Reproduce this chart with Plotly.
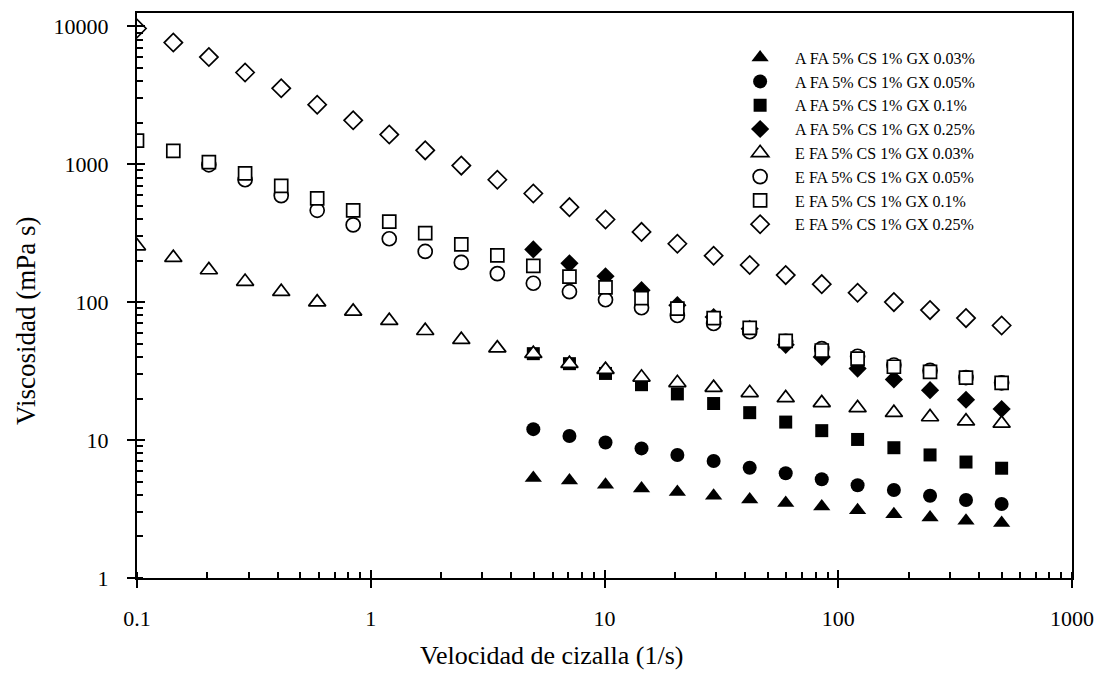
import plotly.graph_objects as go

# Shear rate (1/s) for the full E-series sweep
shear = [0.1, 0.143, 0.203, 0.29, 0.414, 0.59, 0.841, 1.2, 1.71, 2.44, 3.48, 4.96, 7.08,
         10.1, 14.4, 20.5, 29.3, 41.8, 59.6, 85, 121, 173, 247, 352, 500]
# A-series shear rates (start at ~5 1/s)
shear_a = [4.96, 7.08, 10.1, 14.4, 20.5, 29.3, 41.8, 59.6, 85, 121, 173, 247, 352, 500]
# E 0.05% series starts at ~0.2 1/s
shear_e005 = [0.203, 0.29, 0.414, 0.59, 0.841, 1.2, 1.71, 2.44, 3.48, 4.96, 7.08, 10.1,
              14.4, 20.5, 29.3, 41.8, 59.6, 85, 121, 173, 247, 352, 500]

visc_a003 = [5.3, 5.1, 4.75, 4.45, 4.2, 3.95, 3.7, 3.5, 3.3, 3.1, 2.9, 2.75, 2.6, 2.5]
visc_a005 = [12.0, 10.7, 9.6, 8.7, 7.8, 7.05, 6.3, 5.75, 5.2, 4.7, 4.35, 3.95, 3.68, 3.44]
visc_a01 = [42.3, 35.8, 30.4, 25.2, 21.6, 18.4, 15.8, 13.5, 11.7, 10.1, 8.8, 7.8, 6.93, 6.25]
visc_a025 = [241, 191, 154, 122, 95, 78, 64, 49, 40, 33, 27.5, 23, 19.6, 16.8]

visc_e003 = [255, 210, 171, 141, 119, 100, 85.7, 73.4, 62, 53.4, 46.4, 42.3, 35.8, 32.4,
             28.5, 26, 24, 22, 20.2, 18.6, 17.1, 15.8, 14.7, 13.7, 13.2]
visc_e005 = [990, 771, 592, 463, 363, 288, 233, 194, 161, 137, 119, 104, 91, 80, 70, 61,
             52, 46, 40.5, 35, 32, 28.4, 26]
visc_e01 = [1480, 1250, 1034, 859, 697, 566, 462, 383, 316, 262, 218, 183, 153, 128, 107,
            89.7, 76.6, 65, 52.3, 44.6, 39, 34, 31.2, 28.4, 26]
visc_e025 = [9630, 7615, 5980, 4620, 3550, 2700, 2080, 1640, 1260, 977, 771, 613, 488, 397,
             323, 265, 217, 186, 157, 135, 117, 100, 87.5, 76.6, 67.7]

names = ["A FA 5% CS 1% GX 0.03%", "A FA 5% CS 1% GX 0.05%", "A FA 5% CS 1% GX 0.1%",
         "A FA 5% CS 1% GX 0.25%", "E FA 5% CS 1% GX 0.03%", "E FA 5% CS 1% GX 0.05%",
         "E FA 5% CS 1% GX 0.1%", "E FA 5% CS 1% GX 0.25%"]

x_tickvals = [0.1, 1, 10, 100, 1000]
x_ticktext = ["0.1", "1", "10", "100", "1000"]
y_tickvals = [1, 10, 100, 1000, 10000]
y_ticktext = ["1", "10", "100", "1000", "10000"]

series = [
    (names[0], shear_a, visc_a003, "triangle-up", True, 15),
    (names[1], shear_a, visc_a005, "circle", True, 14),
    (names[2], shear_a, visc_a01, "square", True, 13),
    (names[3], shear_a, visc_a025, "diamond", True, 14),
    (names[4], shear, visc_e003, "triangle-up", False, 15),
    (names[5], shear_e005, visc_e005, "circle", False, 14),
    (names[6], shear, visc_e01, "square", False, 13),
    (names[7], shear, visc_e025, "diamond", False, 14),
]

FONT = "Liberation Serif, Times New Roman, serif"

fig = go.Figure()
for name, xs, ys, sym, filled, size in series:
    fig.add_trace(go.Scatter(
        x=xs, y=ys, mode="markers", name=name,
        marker=dict(symbol=sym, size=size,
                    color="black" if filled else "white",
                    line=dict(color="black", width=0 if filled else 1.7)),
    ))

# invisible trace on overlay axes (for crossing major ticks)
fig.add_trace(go.Scatter(x=[1], y=[1], xaxis="x2", yaxis="y2", mode="markers",
                         marker=dict(opacity=0), showlegend=False, hoverinfo="skip"))

XR = [-1, 3]
YR = [0, 4.096]
tickfont = dict(family=FONT, size=22, color="black")
minor = dict(dtick="D1", ticks="inside", ticklen=6, tickwidth=1.5,
             tickcolor="black", showgrid=False)

# page body has an 8px margin, so the figure is sized/offset to compensate
fig.update_layout(
    width=1094, height=665,
    margin=dict(l=129, r=30, t=3, b=95),
    paper_bgcolor="white", plot_bgcolor="white",
    showlegend=True,
    legend=dict(x=0.629, y=0.951, xanchor="left", yanchor="top",
                font=dict(family=FONT, size=16, color="black"),
                bgcolor="rgba(0,0,0,0)", itemwidth=60, tracegroupgap=0),
    xaxis=dict(type="log", range=XR, tickmode="array", tickvals=x_tickvals,
               ticktext=x_ticktext,
               showline=True, linecolor="black", linewidth=2, mirror=True,
               ticks="outside", ticklen=8, tickwidth=2, tickcolor="black",
               showgrid=False, zeroline=False, tickfont=tickfont,
               ticklabelstandoff=12, minor=minor),
    yaxis=dict(type="log", range=YR, tickmode="array", tickvals=y_tickvals,
               ticktext=y_ticktext,
               showline=True, linecolor="black", linewidth=2, mirror=True,
               ticks="outside", ticklen=8, tickwidth=2, tickcolor="black",
               showgrid=False, zeroline=False, tickfont=tickfont,
               ticklabelstandoff=14, minor=minor),
    xaxis2=dict(type="log", range=XR, tickmode="array", tickvals=x_tickvals,
                overlaying="x", anchor="y2",
                ticks="inside", ticklen=8, tickwidth=2, tickcolor="black",
                showticklabels=False, showline=False, showgrid=False, zeroline=False),
    yaxis2=dict(type="log", range=YR, tickmode="array", tickvals=y_tickvals,
                overlaying="y", anchor="x2",
                ticks="inside", ticklen=8, tickwidth=2, tickcolor="black",
                showticklabels=False, showline=False, showgrid=False, zeroline=False),
    annotations=[
        dict(text="Velocidad de cizalla (1/s)", xref="paper", yref="paper",
             x=0.444, y=-0.1658, xanchor="center", yanchor="bottom", showarrow=False,
             font=dict(family=FONT, size=26, color="black")),
        dict(text="Viscosidad (mPa s)", xref="paper", yref="paper",
             x=-0.1187, y=0.455, xanchor="center", yanchor="middle", showarrow=False,
             textangle=-90, font=dict(family=FONT, size=27, color="black")),
    ],
)

fig.write_html("out.html")
